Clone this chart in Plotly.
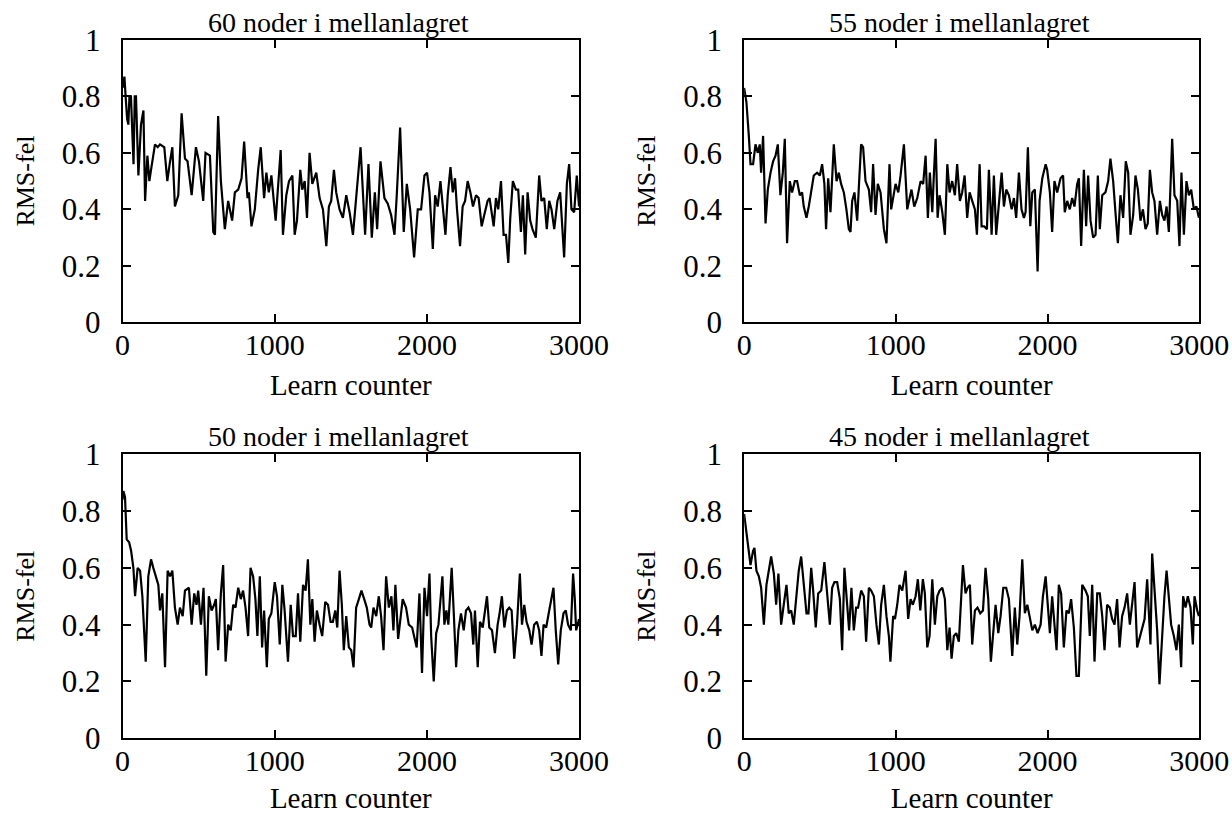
import plotly.graph_objects as go

# Learn counter / RMS error samples for each hidden-layer size
counter_60 = [0, 12, 20, 30, 38, 45, 55, 65, 72, 80, 88, 104, 121, 137, 148, 163, 176, 187, 213, 231, 246, 274, 294,
              312, 327, 344, 366, 388, 410, 427, 454, 482, 502, 530, 545, 574, 596, 607, 628, 646, 672, 694, 705,
              720, 738, 760, 782, 799, 821, 830, 847, 869, 891, 908, 930, 945, 961, 978, 1006, 1022, 1039, 1054,
              1076, 1094, 1116, 1131, 1146, 1168, 1181, 1197, 1212, 1229, 1247, 1273, 1295, 1317, 1339, 1356, 1371,
              1389, 1404, 1426, 1448, 1470, 1492, 1514, 1535, 1564, 1594, 1616, 1638, 1658, 1673, 1695, 1721, 1743,
              1765, 1787, 1802, 1824, 1848, 1868, 1890, 1916, 1940, 1962, 1984, 2001, 2017, 2039, 2054, 2071, 2089,
              2104, 2122, 2137, 2155, 2170, 2185, 2198, 2218, 2235, 2251, 2268, 2286, 2303, 2323, 2340, 2360, 2377,
              2399, 2412, 2439, 2454, 2469, 2487, 2504, 2520, 2535, 2548, 2565, 2585, 2600, 2618, 2631, 2646, 2662,
              2679, 2694, 2716, 2738, 2753, 2771, 2788, 2804, 2819, 2837, 2858, 2876, 2902, 2920, 2935, 2950, 2968,
              2985, 3000]
rms_60 = [0.83, 0.87, 0.80, 0.72, 0.70, 0.80, 0.80, 0.66, 0.56, 0.80, 0.80, 0.52, 0.70, 0.75, 0.43, 0.59, 0.50, 0.54,
          0.63, 0.62, 0.63, 0.62, 0.50, 0.57, 0.62, 0.41, 0.45, 0.74, 0.58, 0.57, 0.45, 0.62, 0.57, 0.43, 0.60, 0.59,
          0.32, 0.31, 0.73, 0.50, 0.33, 0.43, 0.40, 0.36, 0.46, 0.47, 0.51, 0.64, 0.44, 0.46, 0.34, 0.40, 0.54, 0.62,
          0.44, 0.53, 0.46, 0.52, 0.36, 0.50, 0.61, 0.31, 0.45, 0.50, 0.52, 0.31, 0.36, 0.54, 0.47, 0.50, 0.37, 0.60,
          0.49, 0.53, 0.44, 0.40, 0.27, 0.41, 0.43, 0.54, 0.46, 0.40, 0.37, 0.45, 0.39, 0.31, 0.43, 0.62, 0.31, 0.56,
          0.30, 0.46, 0.33, 0.57, 0.44, 0.42, 0.38, 0.31, 0.45, 0.69, 0.32, 0.49, 0.40, 0.23, 0.40, 0.40, 0.52, 0.53,
          0.46, 0.26, 0.45, 0.41, 0.50, 0.40, 0.31, 0.45, 0.55, 0.46, 0.51, 0.40, 0.27, 0.41, 0.43, 0.50, 0.46, 0.41,
          0.45, 0.44, 0.34, 0.38, 0.43, 0.44, 0.34, 0.44, 0.40, 0.50, 0.31, 0.31, 0.21, 0.37, 0.50, 0.47, 0.47, 0.32,
          0.45, 0.24, 0.46, 0.36, 0.33, 0.30, 0.52, 0.43, 0.44, 0.33, 0.43, 0.40, 0.33, 0.43, 0.46, 0.23, 0.49, 0.56,
          0.40, 0.39, 0.52, 0.41]

counter_55 = [0, 15, 31, 42, 59, 75, 90, 103, 112, 125, 141, 156, 174, 191, 207, 222, 239, 255, 268, 283, 301, 316,
              334, 349, 367, 382, 393, 411, 426, 442, 459, 481, 499, 514, 529, 540, 554, 569, 591, 609, 624, 639, 657,
              674, 690, 701, 712, 727, 745, 758, 771, 784, 800, 822, 837, 850, 866, 881, 899, 921, 938, 958, 969, 998,
              1016, 1031, 1053, 1075, 1090, 1103, 1121, 1141, 1163, 1180, 1196, 1211, 1224, 1240, 1251, 1262, 1275,
              1288, 1306, 1323, 1339, 1354, 1371, 1389, 1404, 1422, 1437, 1453, 1470, 1486, 1503, 1521, 1534, 1552,
              1565, 1582, 1600, 1613, 1631, 1646, 1661, 1679, 1697, 1712, 1727, 1745, 1763, 1778, 1793, 1811, 1828,
              1844, 1855, 1870, 1886, 1899, 1916, 1934, 1947, 1965, 1987, 1997, 2015, 2030, 2045, 2063, 2085, 2102,
              2113, 2129, 2146, 2162, 2177, 2195, 2206, 2221, 2239, 2254, 2267, 2283, 2300, 2316, 2331, 2344, 2360,
              2381, 2399, 2414, 2432, 2447, 2463, 2480, 2498, 2515, 2531, 2546, 2564, 2579, 2595, 2612, 2628, 2645,
              2660, 2674, 2689, 2704, 2722, 2740, 2755, 2770, 2784, 2799, 2821, 2836, 2854, 2869, 2882, 2898, 2915,
              2931, 2946, 2964, 2981, 2997]
rms_55 = [0.83, 0.78, 0.66, 0.56, 0.56, 0.63, 0.60, 0.63, 0.53, 0.66, 0.35, 0.47, 0.53, 0.57, 0.59, 0.63, 0.45, 0.53,
          0.65, 0.28, 0.50, 0.46, 0.50, 0.50, 0.45, 0.46, 0.41, 0.37, 0.41, 0.47, 0.52, 0.53, 0.52, 0.56, 0.49, 0.33,
          0.51, 0.39, 0.63, 0.50, 0.53, 0.49, 0.46, 0.40, 0.33, 0.32, 0.43, 0.46, 0.36, 0.50, 0.63, 0.62, 0.50, 0.47,
          0.39, 0.56, 0.38, 0.49, 0.46, 0.33, 0.28, 0.56, 0.40, 0.49, 0.46, 0.52, 0.63, 0.40, 0.44, 0.47, 0.41, 0.44,
          0.50, 0.49, 0.59, 0.37, 0.53, 0.39, 0.53, 0.65, 0.37, 0.45, 0.39, 0.31, 0.56, 0.46, 0.50, 0.45, 0.56, 0.43,
          0.46, 0.52, 0.37, 0.46, 0.43, 0.40, 0.31, 0.56, 0.34, 0.34, 0.33, 0.54, 0.31, 0.52, 0.31, 0.43, 0.53, 0.41,
          0.47, 0.45, 0.40, 0.44, 0.37, 0.53, 0.40, 0.37, 0.39, 0.62, 0.34, 0.46, 0.47, 0.18, 0.43, 0.51, 0.56, 0.54,
          0.46, 0.32, 0.50, 0.46, 0.51, 0.52, 0.39, 0.43, 0.40, 0.44, 0.41, 0.49, 0.51, 0.27, 0.54, 0.34, 0.52, 0.36,
          0.30, 0.31, 0.52, 0.33, 0.45, 0.46, 0.50, 0.58, 0.50, 0.39, 0.28, 0.45, 0.37, 0.57, 0.53, 0.31, 0.38, 0.52,
          0.47, 0.36, 0.40, 0.33, 0.35, 0.54, 0.46, 0.43, 0.31, 0.43, 0.38, 0.36, 0.41, 0.32, 0.65, 0.45, 0.43, 0.27,
          0.53, 0.31, 0.50, 0.45, 0.47, 0.40, 0.41, 0.37]

counter_50 = [0, 5, 16, 27, 43, 56, 71, 82, 99, 115, 130, 152, 169, 187, 202, 218, 235, 246, 261, 279, 296, 312, 327,
              344, 362, 377, 395, 410, 436, 454, 471, 486, 497, 515, 532, 550, 567, 585, 602, 613, 628, 646, 661, 677,
              694, 711, 727, 742, 760, 777, 792, 808, 825, 841, 858, 873, 886, 902, 917, 930, 948, 961, 978, 1000,
              1015, 1033, 1050, 1065, 1087, 1105, 1120, 1138, 1153, 1168, 1186, 1203, 1218, 1234, 1247, 1262, 1277,
              1295, 1312, 1332, 1350, 1367, 1382, 1398, 1411, 1426, 1441, 1454, 1470, 1487, 1503, 1518, 1535, 1553,
              1570, 1588, 1605, 1623, 1634, 1649, 1667, 1684, 1699, 1715, 1732, 1750, 1767, 1780, 1793, 1811, 1826,
              1841, 1863, 1881, 1903, 1918, 1933, 1951, 1968, 1984, 2001, 2017, 2028, 2045, 2061, 2076, 2089, 2102,
              2115, 2128, 2141, 2163, 2176, 2192, 2207, 2224, 2242, 2257, 2273, 2290, 2305, 2316, 2334, 2349, 2367,
              2382, 2395, 2410, 2428, 2447, 2465, 2478, 2493, 2509, 2526, 2541, 2557, 2574, 2592, 2611, 2625, 2640,
              2655, 2673, 2688, 2705, 2723, 2738, 2753, 2767, 2784, 2804, 2832, 2847, 2863, 2880, 2898, 2913, 2928,
              2946, 2961, 2972, 2981, 3000]
rms_50 = [0.84, 0.87, 0.85, 0.70, 0.69, 0.66, 0.60, 0.50, 0.60, 0.59, 0.50, 0.27, 0.57, 0.63, 0.60, 0.57, 0.54, 0.45,
          0.51, 0.25, 0.59, 0.57, 0.59, 0.46, 0.40, 0.46, 0.43, 0.52, 0.53, 0.40, 0.51, 0.47, 0.52, 0.40, 0.53, 0.22,
          0.50, 0.45, 0.47, 0.49, 0.31, 0.51, 0.61, 0.27, 0.40, 0.38, 0.47, 0.46, 0.53, 0.49, 0.52, 0.46, 0.36, 0.60,
          0.57, 0.49, 0.36, 0.57, 0.32, 0.45, 0.25, 0.42, 0.44, 0.55, 0.50, 0.33, 0.54, 0.45, 0.27, 0.47, 0.36, 0.36,
          0.51, 0.34, 0.54, 0.52, 0.63, 0.40, 0.49, 0.34, 0.45, 0.40, 0.36, 0.48, 0.47, 0.41, 0.41, 0.45, 0.39, 0.59,
          0.47, 0.31, 0.43, 0.32, 0.31, 0.25, 0.46, 0.49, 0.52, 0.49, 0.46, 0.40, 0.39, 0.46, 0.43, 0.50, 0.43, 0.31,
          0.57, 0.46, 0.50, 0.38, 0.54, 0.35, 0.43, 0.49, 0.46, 0.40, 0.39, 0.36, 0.32, 0.51, 0.23, 0.53, 0.43, 0.58,
          0.36, 0.20, 0.37, 0.40, 0.50, 0.57, 0.40, 0.45, 0.40, 0.60, 0.45, 0.25, 0.38, 0.44, 0.38, 0.45, 0.46, 0.44,
          0.33, 0.45, 0.25, 0.41, 0.39, 0.46, 0.50, 0.39, 0.38, 0.30, 0.40, 0.44, 0.50, 0.39, 0.45, 0.46, 0.45, 0.28,
          0.40, 0.58, 0.40, 0.47, 0.41, 0.38, 0.33, 0.40, 0.41, 0.38, 0.29, 0.40, 0.39, 0.45, 0.53, 0.38, 0.26, 0.38,
          0.44, 0.45, 0.40, 0.38, 0.58, 0.49, 0.38, 0.42]

counter_45 = [0, 15, 31, 42, 59, 68, 81, 97, 112, 130, 147, 163, 178, 196, 211, 226, 244, 261, 279, 294, 310, 327,
              345, 360, 376, 393, 411, 424, 442, 455, 472, 488, 508, 529, 547, 565, 580, 595, 613, 631, 646, 661, 679,
              692, 707, 723, 738, 751, 771, 789, 804, 822, 837, 855, 872, 888, 903, 921, 938, 954, 964, 982, 994,
              1009, 1024, 1042, 1064, 1081, 1097, 1112, 1130, 1145, 1161, 1178, 1191, 1207, 1222, 1240, 1257, 1273,
              1288, 1306, 1323, 1339, 1354, 1367, 1382, 1398, 1415, 1442, 1459, 1473, 1488, 1503, 1521, 1538, 1556,
              1574, 1591, 1609, 1626, 1642, 1657, 1675, 1690, 1708, 1727, 1745, 1767, 1784, 1800, 1815, 1833, 1850,
              1866, 1881, 1899, 1916, 1934, 1954, 1969, 1987, 2015, 2030, 2045, 2059, 2074, 2089, 2107, 2124, 2140,
              2155, 2173, 2190, 2206, 2217, 2228, 2250, 2265, 2278, 2294, 2309, 2327, 2344, 2360, 2375, 2392, 2410,
              2425, 2441, 2458, 2474, 2491, 2507, 2524, 2542, 2559, 2573, 2590, 2608, 2625, 2639, 2656, 2667, 2678,
              2689, 2704, 2722, 2737, 2755, 2770, 2784, 2799, 2814, 2832, 2849, 2865, 2880, 2893, 2909, 2924, 2942,
              2957, 2968, 2986, 2997]
rms_45 = [0.79, 0.72, 0.64, 0.61, 0.66, 0.67, 0.59, 0.57, 0.53, 0.40, 0.54, 0.60, 0.64, 0.58, 0.47, 0.58, 0.40, 0.47,
          0.54, 0.44, 0.45, 0.40, 0.51, 0.59, 0.64, 0.54, 0.44, 0.44, 0.60, 0.52, 0.39, 0.51, 0.52, 0.62, 0.52, 0.40,
          0.53, 0.55, 0.55, 0.49, 0.31, 0.60, 0.47, 0.38, 0.53, 0.38, 0.46, 0.46, 0.52, 0.50, 0.34, 0.53, 0.52, 0.50,
          0.40, 0.33, 0.47, 0.54, 0.43, 0.36, 0.27, 0.43, 0.42, 0.47, 0.54, 0.52, 0.59, 0.42, 0.49, 0.47, 0.50, 0.56,
          0.45, 0.56, 0.51, 0.32, 0.36, 0.56, 0.40, 0.50, 0.52, 0.53, 0.49, 0.31, 0.39, 0.28, 0.36, 0.37, 0.34, 0.61,
          0.51, 0.53, 0.54, 0.33, 0.45, 0.46, 0.44, 0.45, 0.60, 0.49, 0.27, 0.39, 0.47, 0.37, 0.43, 0.53, 0.53, 0.49,
          0.29, 0.46, 0.33, 0.43, 0.63, 0.44, 0.47, 0.43, 0.38, 0.40, 0.37, 0.40, 0.50, 0.57, 0.37, 0.50, 0.40, 0.31,
          0.54, 0.51, 0.32, 0.45, 0.44, 0.49, 0.39, 0.22, 0.22, 0.40, 0.54, 0.52, 0.50, 0.36, 0.54, 0.27, 0.51, 0.51,
          0.43, 0.31, 0.47, 0.46, 0.42, 0.40, 0.49, 0.32, 0.43, 0.46, 0.51, 0.40, 0.49, 0.55, 0.32, 0.36, 0.40, 0.42,
          0.56, 0.45, 0.33, 0.65, 0.54, 0.38, 0.19, 0.38, 0.50, 0.59, 0.50, 0.40, 0.36, 0.31, 0.40, 0.25, 0.50, 0.46,
          0.50, 0.46, 0.33, 0.50, 0.45, 0.43]

panel_titles = ["60 noder i mellanlagret", "55 noder i mellanlagret",
                "50 noder i mellanlagret", "45 noder i mellanlagret"]
x_ticks = [0, 1000, 2000, 3000]
y_ticks = [0, 0.2, 0.4, 0.6, 0.8, 1]
y_ticklabels = ["0", "0.2", "0.4", "0.6", "0.8", "1"]

series = [(counter_60, rms_60), (counter_55, rms_55), (counter_50, rms_50), (counter_45, rms_45)]

# panel domains in paper coordinates (left/right columns, top/bottom rows)
x_domains = [[0.0995, 0.470], [0.604, 0.9735], [0.0995, 0.470], [0.604, 0.9735]]
y_domains = [[0.604, 0.951], [0.604, 0.951], [0.093, 0.442], [0.093, 0.442]]

FONT = "Liberation Serif, Times New Roman, serif"

fig = go.Figure()
layout = dict(
    width=1232, height=814,
    margin=dict(l=0, r=0, t=0, b=0),
    paper_bgcolor="white", plot_bgcolor="white",
    showlegend=False,
    font=dict(family=FONT, color="black", size=28),
)

annotations = []
for i, ((xs, ys), title) in enumerate(zip(series, panel_titles)):
    n = "" if i == 0 else str(i + 1)
    fig.add_trace(go.Scatter(x=xs, y=ys, mode="lines",
                             line=dict(color="black", width=2.2),
                             xaxis="x" + n, yaxis="y" + n))
    axis_common = dict(showline=True, linecolor="black", linewidth=2, mirror="ticks",
                       ticks="inside", ticklen=8, tickwidth=1.5, tickcolor="black",
                       showgrid=False, zeroline=False, automargin=False,
                       tickfont=dict(family=FONT, size=30, color="black"))
    layout["xaxis" + n] = dict(axis_common, domain=x_domains[i], range=[0, 3000],
                               tickvals=x_ticks, anchor="y" + n, ticklabelstandoff=-5,
                               title=dict(text="Learn counter", font=dict(family=FONT, size=29),
                                          standoff=14))
    layout["yaxis" + n] = dict(axis_common, domain=y_domains[i], range=[0, 1],
                               tickvals=y_ticks, ticktext=y_ticklabels, anchor="x" + n,
                               ticklabelstandoff=14,
                               tickfont=dict(family=FONT, size=31, color="black"),
                               title=dict(text="RMS-fel", font=dict(family=FONT, size=26),
                                          standoff=20))
    annotations.append(dict(text=title, xref="paper", yref="paper",
                            x=(x_domains[i][0] + x_domains[i][1]) / 2,
                            y=y_domains[i][1], xanchor="center", yanchor="bottom",
                            xshift=-12, yshift=0, showarrow=False,
                            font=dict(family=FONT, size=28, color="black")))

layout["annotations"] = annotations
fig.update_layout(**layout)
fig.write_html("out.html")
